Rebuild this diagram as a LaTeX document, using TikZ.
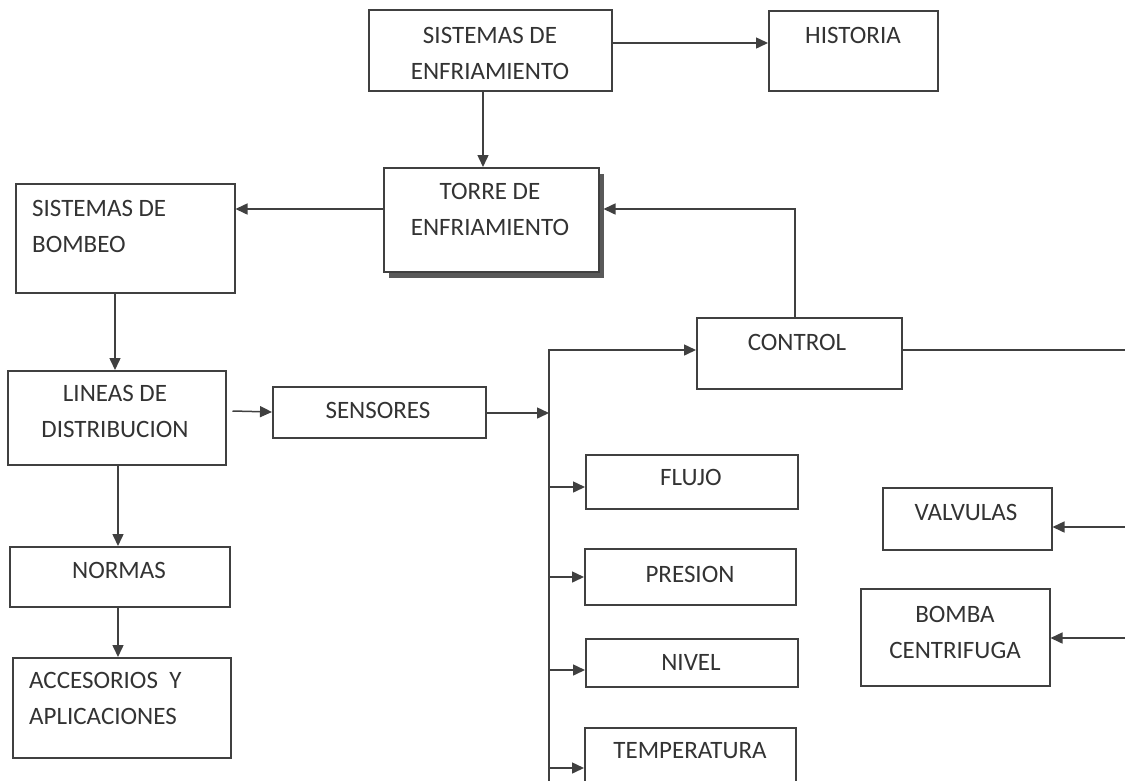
\documentclass[tikz,border=0pt]{standalone}
\usepackage{fontspec}
\setmainfont{Carlito}
\usetikzlibrary{arrows.meta,shadows}
\begin{document}
\begin{tikzpicture}[x=1pt,y=-1pt,
  box/.style={draw=black!75, line width=1.5pt, anchor=north west, inner sep=0pt, fill=white},
  lbl/.style={font=\fontsize{25}{36.5}\selectfont, text=black!80, align=center, anchor=north, inner sep=0pt},
  lbll/.style={font=\fontsize{25}{36.5}\selectfont, text=black!80, align=left, anchor=north west, inner sep=0pt},
  arr/.style={draw=black!75, line width=1.5pt, -{Triangle[length=12pt,width=11pt]}},
  ln/.style={draw=black!75, line width=1.5pt}]
\clip (0,0) rectangle (1125,780);
\fill[white] (0,0) rectangle (1125,780);

% boxes
\node[box, minimum width=243pt, minimum height=81pt] (se) at (368,9) {};
\node[box, minimum width=169pt, minimum height=80pt] (hist) at (768,10) {};
\node[box, minimum width=215pt, minimum height=104pt,
      drop shadow={shadow xshift=5pt, shadow yshift=-6pt, fill=black!65, opacity=1}] (torre) at (383,167) {};
\node[box, minimum width=219pt, minimum height=109pt] (bombeo) at (15,183) {};
\node[box, minimum width=218pt, minimum height=94pt] (lineas) at (7,370) {};
\node[box, minimum width=213pt, minimum height=51pt] (sensores) at (272,386) {};
\node[box, minimum width=205pt, minimum height=71pt] (control) at (696,317) {};
\node[box, minimum width=212pt, minimum height=54pt] (flujo) at (585,454) {};
\node[box, minimum width=211pt, minimum height=56pt] (presion) at (584,548) {};
\node[box, minimum width=212pt, minimum height=48pt] (nivel) at (585,638) {};
\node[box, minimum width=211pt, minimum height=70pt] (temp) at (584,727) {};
\node[box, minimum width=169pt, minimum height=62pt] (valv) at (882,487) {};
\node[box, minimum width=189pt, minimum height=97pt] (bomba) at (860,588) {};
\node[box, minimum width=220pt, minimum height=60pt] (normas) at (9,546) {};
\node[box, minimum width=218pt, minimum height=100pt] (acc) at (12,657) {};

% labels
\node[lbl] (tse) at (490,27) {SISTEMAS DE\\ENFRIAMIENTO};
\node[lbl] (thist) at (853,27) {HISTORIA};
\node[lbl] (ttorre) at (490,183) {TORRE DE\\ENFRIAMIENTO};
\node[lbll] (tbombeo) at (32,200) {SISTEMAS DE\\BOMBEO};
\node[lbl] (tlineas) at (115,385) {LINEAS DE\\DISTRIBUCION};
\node[lbl] (tsensores) at (378,402) {SENSORES};
\node[lbl] (tcontrol) at (797,334) {CONTROL};
\node[lbl] (tflujo) at (691,469) {FLUJO};
\node[lbl] (tpresion) at (690,566) {PRESION};
\node[lbl] (tnivel) at (691,654) {NIVEL};
\node[lbl] (ttemp) at (690,742) {TEMPERATURA};
\node[lbl] (tvalv) at (966,504) {VALVULAS};
\node[lbl] (tbomba) at (955,606) {BOMBA\\CENTRIFUGA};
\node[lbl] (tnormas) at (119,562) {NORMAS};
\node[lbll] (tacc) at (29,672) {ACCESORIOS~~Y\\APLICACIONES};

% helper coordinates
\coordinate (tin) at ([xshift=4pt]torre.east);
\coordinate (lout) at ([xshift=6pt]lineas.east);
\coordinate (busTop) at (549,350);
\coordinate (busBot) at (549,790);
\coordinate (edgeR) at (1130,0);

% connectors
\draw[arr] (se.east |- 0,43) -- (hist.west |- 0,43);
\draw[arr] (se.south -| 483,0) -- (torre.north -| 483,0);
\draw[arr] (torre.west |- 0,209) -- (bombeo.east |- 0,209);
\draw[arr] (control.north -| 795,0) |- (tin |- 0,209);
\draw[arr] (bombeo.south -| 115,0) -- (lineas.north -| 115,0);
\draw[arr] (lineas.south -| 118,0) -- (normas.north -| 118,0);
\draw[arr] (normas.south -| 118,0) -- (acc.north -| 118,0);
\draw[arr] (lout |- 0,411) -- (sensores.west |- 0,412);
\draw[arr] (sensores.east |- 0,413) -- (busTop |- 0,413);
\draw[arr] (busBot) |- (control.west |- busTop);
\draw[arr] (busTop |- 0,487) -- (flujo.west |- 0,487);
\draw[arr] (busTop |- 0,577) -- (presion.west |- 0,577);
\draw[arr] (busTop |- 0,670) -- (nivel.west |- 0,670);
\draw[arr] (busTop |- 0,768) -- (temp.west |- 0,768);
\draw[ln] (control.east |- busTop) -- (edgeR |- busTop);
\draw[arr] (edgeR |- 0,527) -- (valv.east |- 0,527);
\draw[arr] (edgeR |- 0,638) -- (bomba.east |- 0,638);
\end{tikzpicture}
\end{document}
